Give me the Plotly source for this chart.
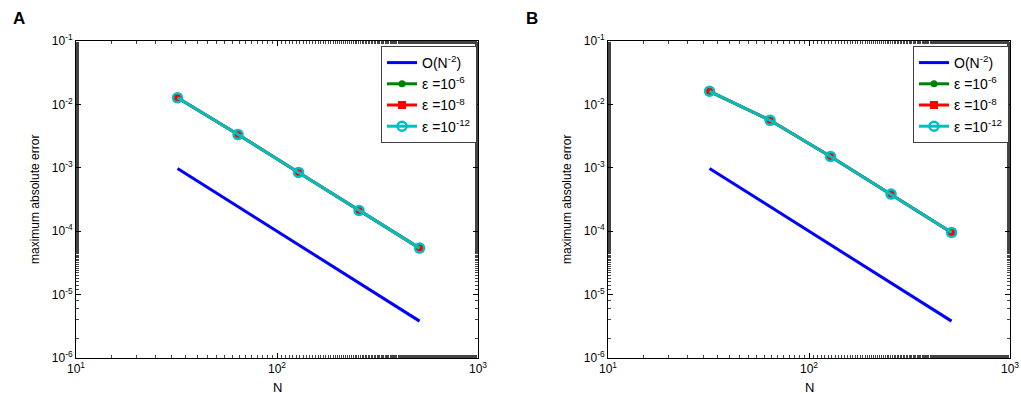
import plotly.graph_objects as go

# ---- data ----
N = [32, 64, 128, 256, 512]
ref_order = [1.0 / n**2 for n in N]          # O(N^-2) reference line
# panel A
errA_e6 = [1.27e-2, 3.34e-3, 8.45e-4, 2.12e-4, 5.41e-5]
errA_e8 = [1.27e-2, 3.34e-3, 8.45e-4, 2.12e-4, 5.41e-5]
errA_e12 = [1.27e-2, 3.34e-3, 8.45e-4, 2.12e-4, 5.41e-5]
# panel B
errB_e6 = [1.61e-2, 5.61e-3, 1.51e-3, 3.85e-4, 9.55e-5]
errB_e8 = [1.61e-2, 5.61e-3, 1.51e-3, 3.85e-4, 9.55e-5]
errB_e12 = [1.61e-2, 5.61e-3, 1.51e-3, 3.85e-4, 9.55e-5]

x_tickvals = [10, 100, 1000]
x_ticktext = ["10<sup>1</sup>", "10<sup>2</sup>", "10<sup>3</sup>"]
y_tickvals = [1e-6, 1e-5, 1e-4, 1e-3, 1e-2, 1e-1]
y_ticktext = ["10<sup>-6</sup>", "10<sup>-5</sup>", "10<sup>-4</sup>",
              "10<sup>-3</sup>", "10<sup>-2</sup>", "10<sup>-1</sup>"]

names = ["O(N<sup>-2</sup>)", "ε =10<sup>-6</sup>", "ε =10<sup>-8</sup>", "ε =10<sup>-12</sup>"]
x_title = "N"
y_title = "maximum absolute error"
panel_labels = ["A", "B"]

FONT = "Liberation Sans, Arial, Helvetica, sans-serif"
W, H = 1021, 394
fig = go.Figure()

panels = [
    ("x", "y", "legend", errA_e6, errA_e8, errA_e12),
    ("x2", "y2", "legend2", errB_e6, errB_e8, errB_e12),
]
for xa, ya, lg, e6, e8, e12 in panels:
    fig.add_trace(go.Scatter(x=N, y=ref_order, mode="lines", name=names[0],
                             line=dict(color="#0000FF", width=3),
                             xaxis=xa, yaxis=ya, legend=lg))
    fig.add_trace(go.Scatter(x=N, y=e6, mode="lines+markers", name=names[1],
                             line=dict(color="#007F00", width=3),
                             marker=dict(symbol="circle", size=7, color="#007F00"),
                             xaxis=xa, yaxis=ya, legend=lg))
    fig.add_trace(go.Scatter(x=N, y=e8, mode="lines+markers", name=names[2],
                             line=dict(color="#FF0000", width=3),
                             marker=dict(symbol="square", size=8, color="#FF0000"),
                             xaxis=xa, yaxis=ya, legend=lg))
    fig.add_trace(go.Scatter(x=N, y=e12, mode="lines+markers", name=names[3],
                             line=dict(color="#00BFBF", width=3),
                             marker=dict(symbol="circle-open", size=9, color="#00BFBF",
                                         line=dict(width=2.5, color="#00BFBF")),
                             xaxis=xa, yaxis=ya, legend=lg))

axis_common = dict(
    type="log", showgrid=False, zeroline=False, automargin=False,
    showline=True, linecolor="black", linewidth=1, mirror="ticks",
    ticks="inside", ticklen=5, tickcolor="black", tickwidth=1,
    minor=dict(ticks="inside", ticklen=3, tickcolor="#444444", tickwidth=1, showgrid=False),
    tickfont=dict(family=FONT, size=12, color="black"),
)
xdom = [[76 / W, 478 / W], [608 / W, 1010 / W]]
ydom = [1 - 358 / H, 1 - 41 / H]

xa_base = dict(axis_common, range=[1, 3], tickvals=x_tickvals, ticktext=x_ticktext)
ya_base = dict(axis_common, range=[-6, -1], tickvals=y_tickvals, ticktext=y_ticktext)

legend_common = dict(
    bgcolor="white", bordercolor="#404040", borderwidth=1,
    font=dict(family=FONT, size=14, color="black"),
    xanchor="right", yanchor="top", tracegroupgap=0, itemwidth=30,
)

annotations = []
label_x = [19, 532]
ytitle_x = [35, 567]
for i in range(2):
    annotations.append(dict(text="<b>%s</b>" % panel_labels[i], x=label_x[i] / W, y=1 - 18 / H,
                            xref="paper", yref="paper", showarrow=False,
                            xanchor="center", yanchor="middle",
                            font=dict(family=FONT, size=17, color="black")))
    annotations.append(dict(text=x_title, x=(xdom[i][0] + xdom[i][1]) / 2, y=1 - 387 / H,
                            xref="paper", yref="paper", showarrow=False,
                            xanchor="center", yanchor="middle",
                            font=dict(family=FONT, size=13, color="black")))
    annotations.append(dict(text=y_title, x=ytitle_x[i] / W, y=1 - 200 / H, textangle=-90,
                            xref="paper", yref="paper", showarrow=False,
                            xanchor="center", yanchor="middle",
                            font=dict(family=FONT, size=12, color="black")))

fig.update_layout(
    width=W, height=H,
    margin=dict(l=0, r=0, t=0, b=0, autoexpand=False),
    paper_bgcolor="white", plot_bgcolor="white",
    font=dict(family=FONT, size=12, color="black"),
    xaxis=dict(xa_base, domain=xdom[0], anchor="y"),
    yaxis=dict(ya_base, domain=ydom, anchor="x"),
    xaxis2=dict(xa_base, domain=xdom[1], anchor="y2"),
    yaxis2=dict(ya_base, domain=ydom, anchor="x2"),
    legend=dict(legend_common, x=477 / W, y=1 - 46 / H),
    legend2=dict(legend_common, x=1009 / W, y=1 - 46 / H),
    annotations=annotations,
)

fig.write_html("out.html", config={"displayModeBar": False},
               post_script="document.body.style.margin='0';document.body.style.overflow='hidden';")
